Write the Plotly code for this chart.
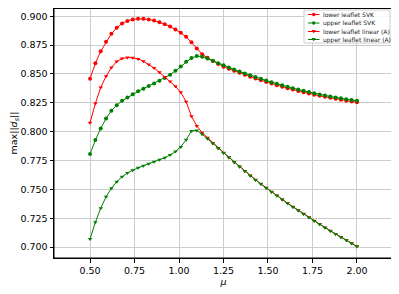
import plotly.graph_objects as go

RED = "#ff0000"
GREEN = "#008000"
GRID = "#cccccc"

# mu grid (step 0.03)
mu = [0.50, 0.53, 0.56, 0.59, 0.62, 0.65, 0.68, 0.71, 0.74, 0.77,
      0.80, 0.83, 0.86, 0.89, 0.92, 0.95, 0.98, 1.01, 1.04, 1.07,
      1.10, 1.13, 1.16, 1.19, 1.22, 1.25, 1.28, 1.31, 1.34, 1.37,
      1.40, 1.43, 1.46, 1.49, 1.52, 1.55, 1.58, 1.61, 1.64, 1.67,
      1.70, 1.73, 1.76, 1.79, 1.82, 1.85, 1.88, 1.91, 1.94, 1.97, 2.00]

lower_svk = [0.8458, 0.8593, 0.8697, 0.8779, 0.8848, 0.8900, 0.8937, 0.8960, 0.8973, 0.8978,
             0.8978, 0.8972, 0.8963, 0.8949, 0.8932, 0.8912, 0.8886, 0.8857, 0.8822, 0.8775,
             0.8720, 0.8672, 0.8640, 0.8612, 0.8586, 0.8563, 0.8545, 0.8527, 0.8510, 0.8493,
             0.8477, 0.8461, 0.8446, 0.8431, 0.8417, 0.8403, 0.8390, 0.8377, 0.8365, 0.8353,
             0.8342, 0.8331, 0.8321, 0.8311, 0.8302, 0.8293, 0.8285, 0.8277, 0.8269, 0.8262, 0.8254]

upper_svk = [0.7806, 0.7927, 0.8028, 0.8115, 0.8181, 0.8230, 0.8267, 0.8296, 0.8325, 0.8350,
             0.8372, 0.8395, 0.8418, 0.8442, 0.8466, 0.8494, 0.8527, 0.8566, 0.8607, 0.8639,
             0.8655, 0.8650, 0.8634, 0.8614, 0.8594, 0.8575, 0.8557, 0.8539, 0.8522, 0.8505,
             0.8489, 0.8473, 0.8458, 0.8443, 0.8429, 0.8415, 0.8402, 0.8389, 0.8377, 0.8365,
             0.8354, 0.8343, 0.8333, 0.8323, 0.8314, 0.8305, 0.8297, 0.8289, 0.8281, 0.8274, 0.8267]

lower_lin = [0.8077, 0.8245, 0.8383, 0.8480, 0.8556, 0.8609, 0.8634, 0.8642, 0.8641, 0.8631,
             0.8610, 0.8583, 0.8552, 0.8514, 0.8473, 0.8434, 0.8393, 0.8341, 0.8260, 0.8133,
             0.8050, 0.7991, 0.7948, 0.7902, 0.7858, 0.7818, 0.7778, 0.7738, 0.7698, 0.7659,
             0.7621, 0.7584, 0.7548, 0.7513, 0.7479, 0.7446, 0.7413, 0.7381, 0.7350, 0.7319,
             0.7288, 0.7258, 0.7228, 0.7199, 0.7170, 0.7142, 0.7114, 0.7087, 0.7060, 0.7033, 0.7006]

upper_lin = [0.7069, 0.7215, 0.7336, 0.7436, 0.7509, 0.7567, 0.7609, 0.7642, 0.7666, 0.7688,
             0.7705, 0.7722, 0.7739, 0.7757, 0.7775, 0.7798, 0.7828, 0.7868, 0.7930, 0.8005,
             0.8011, 0.7978, 0.7938, 0.7897, 0.7856, 0.7816, 0.7776, 0.7736, 0.7696, 0.7657,
             0.7619, 0.7582, 0.7546, 0.7511, 0.7477, 0.7444, 0.7411, 0.7379, 0.7348, 0.7317,
             0.7286, 0.7256, 0.7226, 0.7197, 0.7168, 0.7140, 0.7112, 0.7085, 0.7058, 0.7031, 0.7004]

names = ["lower leaflet SVK", "upper leaflet SVK",
         "lower leaflet linear (A)", "upper leaflet linear (A)"]

# the page body has an 8px margin, so the figure is drawn 8px smaller
OFF = 8
W, H = 399 - OFF, 294 - OFF
# axes box in window pixels
AX_L, AX_R, AX_T, AX_B = 54, 393, 8, 258


def px(x):
    return (x - AX_L) / (AX_R - AX_L)


def py(y):
    return (AX_B - y) / (AX_B - AX_T)


series = [
    (names[0], lower_svk, RED, "circle"),
    (names[1], upper_svk, GREEN, "circle"),
    (names[2], lower_lin, RED, "triangle-down"),
    (names[3], upper_lin, GREEN, "triangle-down"),
]

fig = go.Figure()
for name, ys, color, sym in series:
    fig.add_scatter(
        x=mu, y=ys, name=name, mode="lines+markers",
        line=dict(color=color, width=1),
        marker=dict(color=color, size=4, symbol=sym, line=dict(width=0)),
        showlegend=False,
    )

# axes frame (all four sides)
shapes = [dict(type="rect", xref="paper", yref="paper",
               x0=0, x1=1, y0=0, y1=py(AX_T + 0.5),
               line=dict(color="black", width=1), layer="above")]

# hand-made legend (plotly's legend rows are too tall for this size)
shapes.append(dict(type="rect", xref="paper", yref="paper",
                   x0=px(304), x1=px(390), y0=py(43), y1=py(10),
                   line=dict(color="#cccccc", width=1),
                   fillcolor="rgba(255,255,255,0.85)", layer="above"))
annotations = []
rows_y = [14.5, 23, 31.5, 39.5]
for (name, _, color, sym), ry in zip(series, rows_y):
    shapes.append(dict(type="line", xref="paper", yref="paper",
                       x0=px(308), x1=px(319.5), y0=py(ry), y1=py(ry),
                       line=dict(color=color, width=1), layer="above"))
    if sym == "circle":
        shapes.append(dict(type="circle", xref="paper", yref="paper",
                           xsizemode="pixel", ysizemode="pixel",
                           xanchor=px(313.7), yanchor=py(ry),
                           x0=-1.7, x1=1.7, y0=-1.7, y1=1.7,
                           fillcolor=color, line=dict(width=0), layer="above"))
    else:
        shapes.append(dict(type="path", xref="paper", yref="paper",
                           xsizemode="pixel", ysizemode="pixel",
                           xanchor=px(313.7), yanchor=py(ry),
                           path="M-2,1.5 L2,1.5 L0,-2 Z",
                           fillcolor=color, line=dict(width=0), layer="above"))
    annotations.append(dict(xref="paper", yref="paper", x=px(322), y=py(ry),
                            text=name, showarrow=False, xanchor="left",
                            yanchor="middle", borderpad=0,
                            font=dict(size=6, color="#222222")))

axis_common = dict(
    automargin=False,
    showgrid=True, gridcolor=GRID, gridwidth=1, zeroline=False,
    showline=True, linecolor="black", linewidth=1, mirror=True,
    ticks="outside", ticklen=3.5, tickcolor="black", tickwidth=1,
    tickfont=dict(size=9.5, color="black"),
)

fig.update_layout(
    width=W, height=H,
    margin=dict(l=AX_L - OFF, r=399 - AX_R, t=AX_T - OFF, b=294 - AX_B, pad=0),
    plot_bgcolor="white", paper_bgcolor="white",
    font=dict(family="DejaVu Sans", size=9.5, color="black"),
    xaxis=dict(range=[0.2975, 2.2025], tick0=0.5, dtick=0.25, tickformat=".2f",
               title=dict(text="<i>μ</i>", standoff=1, font=dict(size=9.5)),
               **axis_common),
    yaxis=dict(range=[0.6905, 0.9072], tick0=0.7, dtick=0.025, tickformat=".3f",
               title=dict(text="max||<i>d</i><sub><i>s</i></sub>||", standoff=5,
                          font=dict(size=9.5)),
               **axis_common),
    shapes=shapes, annotations=annotations,
    showlegend=False,
)

fig.write_html("out.html")
